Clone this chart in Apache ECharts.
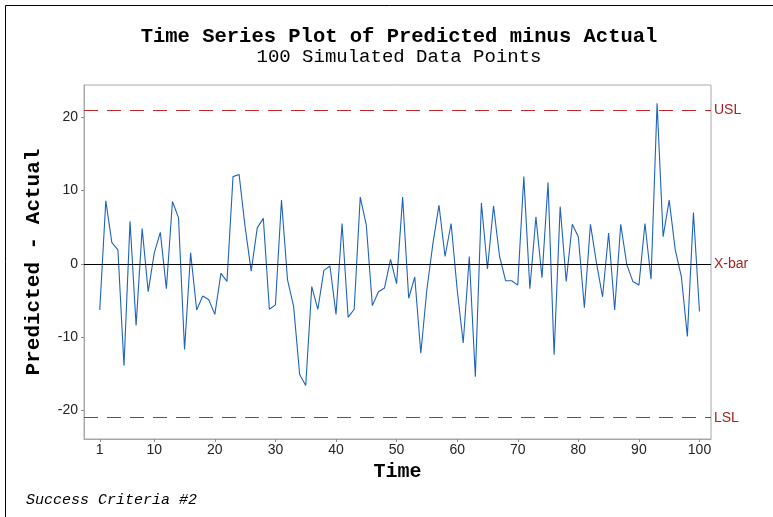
<!DOCTYPE html>
<html lang="en">
<head>
    <meta charset="UTF-8">
    <title>Time Series Plot</title>
    <script src="https://cdn.jsdelivr.net/npm/echarts@6/dist/echarts.min.js"></script>
    <style>
        html,body{margin:0;padding:0;background:#fff;}
        #main{width:773px;height:517px;}
    </style>
</head>
<body>
    <div id="main"></div>
    <script>
        // predicted minus actual
        var values = [
            -6.3, 8.6, 2.9, 1.9, -13.9, 5.8, -8.4, 4.8, -3.8, 1.5,
            4.3, -3.4, 8.5, 6.3, -11.7, 1.5, -6.3, -4.4, -4.9, -6.9,
            -1.3, -2.4, 11.9, 12.2, 5.0, -1.0, 4.9, 6.2, -6.2, -5.6,
            8.7, -2.2, -5.8, -15.1, -16.6, -3.1, -6.2, -0.9, -0.3, -6.9,
            5.5, -7.3, -6.2, 9.1, 5.3, -5.7, -3.8, -3.3, 0.6, -2.7,
            9.1, -4.7, -1.8, -12.2, -3.5, 2.8, 8.0, 1.0, 5.5, -3.5,
            -10.8, 1.0, -15.4, 8.3, -0.7, 7.9, 1.0, -2.3, -2.3, -2.9,
            11.9, -3.4, 6.4, -1.9, 11.1, -12.4, 7.8, -2.4, 5.4, 3.7,
            -6.0, 5.4, 0.1, -4.5, 4.2, -6.3, 5.4, -0.1, -2.4, -2.9,
            5.5, -2.1, 21.9, 3.7, 8.7, 1.9, -1.7, -9.9, 7.0, -6.5
        ]
        var xTicks = [1, 10, 20, 30, 40, 50, 60, 70, 80, 90, 100]
        var yTicks = [-20, -10, 0, 10, 20]
        var usl = 21, xbar = 0, lsl = -21

        var points = values.map(function (v, i) { return [i + 1, v] })

        var mono = '"Liberation Mono", "DejaVu Sans Mono", monospace'
        var sans = '"Liberation Sans", Arial, sans-serif'
        var limitRed = '#a8201f'

        var chart = echarts.init(document.getElementById('main'))
        var option = {
            animation: false,
            backgroundColor: '#fff',
            title: [
                {text: 'Time Series Plot of Predicted minus Actual', left: 394, top: 21, textAlign: 'center',
                    textStyle: {fontFamily: mono, fontSize: 20.5, fontWeight: 'bold', color: '#000'}},
                {text: '100 Simulated Data Points', left: 394, top: 42, textAlign: 'center',
                    textStyle: {fontFamily: mono, fontSize: 19, fontWeight: 'normal', color: '#000'}}
            ],
            graphic: [
                {type: 'polyline', shape: {points: [[5.5, 517], [5.5, 5.5], [773, 5.5]]},
                    style: {stroke: '#000', lineWidth: 1, fill: null}},
                {type: 'text', left: 26, top: 493,
                    style: {text: 'Success Criteria #2', font: 'italic 15px ' + mono, fill: '#000'}}
            ],
            grid: {left: 84, top: 85, right: 62, bottom: 78, show: true, borderColor: '#a8a8a8', borderWidth: 1},
            xAxis: {
                type: 'value', min: -1.6, max: 101.9,
                name: 'Time', nameLocation: 'middle', nameGap: 22,
                nameTextStyle: {fontFamily: mono, fontSize: 20, fontWeight: 'bold', color: '#000'},
                axisLine: {show: true, onZero: false, lineStyle: {color: '#a8a8a8'}},
                axisTick: {show: true, length: 3, customValues: xTicks, lineStyle: {color: '#888'}},
                axisLabel: {customValues: xTicks, fontFamily: sans, fontSize: 14, color: '#222', margin: 4},
                splitLine: {show: false}
            },
            yAxis: {
                type: 'value', min: -23.9, max: 24.4,
                name: 'Predicted - Actual', nameLocation: 'middle', nameGap: 40, nameRotate: 90,
                nameTextStyle: {fontFamily: mono, fontSize: 21, fontWeight: 'bold', color: '#000'},
                axisLine: {show: true, onZero: false, lineStyle: {color: '#a8a8a8'}},
                axisTick: {show: true, length: 3, customValues: yTicks, lineStyle: {color: '#888'}},
                axisLabel: {customValues: yTicks, fontFamily: sans, fontSize: 14, color: '#222', margin: 6},
                splitLine: {show: false}
            },
            series: [{
                type: 'line',
                data: points,
                symbol: 'none',
                lineStyle: {color: '#1f63b8', width: 1.1},
                markLine: {
                    silent: true,
                    symbol: ['none', 'none'],
                    label: {position: 'end', distance: 3, fontFamily: sans, fontSize: 14, color: limitRed},
                    data: [
                        {yAxis: usl, label: {formatter: 'USL'}, lineStyle: {color: '#c0282a', type: [14, 9], width: 1}},
                        {yAxis: xbar, label: {formatter: 'X-bar'}, lineStyle: {color: '#000', type: 'solid', width: 1.2}},
                        {yAxis: lsl, label: {formatter: 'LSL'}, lineStyle: {color: '#c0282a', type: [14, 9], width: 1}}
                    ]
                }
            }]
        }
        chart.setOption(option)
    </script>
</body>
</html>
